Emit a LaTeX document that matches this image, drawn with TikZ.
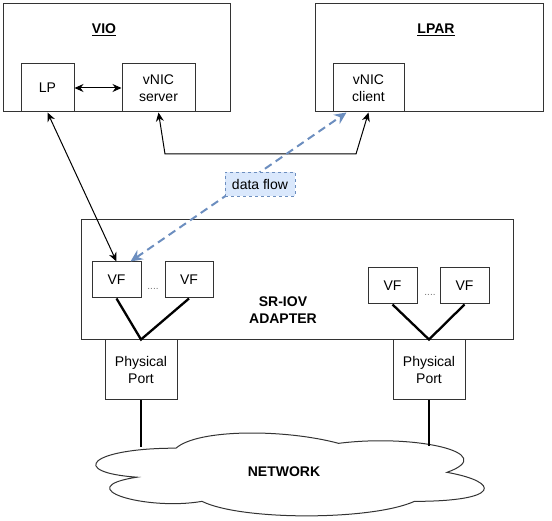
\documentclass[tikz,border=0pt]{standalone}
\usepackage{fontspec}
\setmainfont{Liberation Sans}
\usetikzlibrary{arrows.meta}
\definecolor{flowblue}{HTML}{6C8EBF}
\definecolor{flowfill}{HTML}{DAE8FC}

\begin{document}
\begin{tikzpicture}[
		x=1pt, y=-1pt,
		every node/.style={font=\fontsize{14}{16.5}\selectfont},
		box/.style={draw=black!80, line width=1pt, inner sep=0pt, align=center},
		title/.style={font=\fontsize{14}{16.5}\selectfont\bfseries, align=center},
		link/.style={line width=1pt, {Stealth[length=9pt,width=8pt]}-{Stealth[length=9pt,width=8pt]}},
		wire/.style={line width=2.3pt},
		flow/.style={draw=flowblue, line width=2pt, dash pattern=on 8pt off 5pt,
			{Stealth[length=12pt,width=11pt]}-{Stealth[length=12pt,width=11pt]}},
		flowlabel/.style={draw=flowblue, fill=flowfill, dashed, line width=0.8pt,
			minimum width=70pt, minimum height=24pt, inner sep=0pt},
		dotgap/.style={text=black!55, font=\fontsize{10}{10}\selectfont, inner sep=0pt}
	]
	\useasboundingbox (0,0) rectangle (552,521);

	\node[box, minimum width=227pt, minimum height=108pt] (vio) at (116.5,58) {};
	\node[title] (viotitle) at (104,30) {\underline{VIO}};
	\node[box, minimum width=53pt, minimum height=48pt] (lp) at (47.5,88) {LP};
	\node[box, minimum width=73pt, minimum height=48pt] (srv) at (158.5,88) {vNIC\\server};

	\node[box, minimum width=228pt, minimum height=108pt] (lpar) at (429,58) {};
	\node[title] (lpartitle) at (436,30) {\underline{LPAR}};
	\node[box, minimum width=71pt, minimum height=48pt] (cli) at (368.5,88) {vNIC\\client};

	\node[box, minimum width=432pt, minimum height=120pt] (sriov) at (297,280) {};
	\node[title] (sriovtitle) at (283,310) {SR-IOV\\ADAPTER};
	\node[box, minimum width=49pt, minimum height=36pt] (vf1) at (116.5,280) {VF};
	\node[box, minimum width=48pt, minimum height=36pt] (vf2) at (189,280) {VF};
	\node[box, minimum width=49pt, minimum height=36pt] (vf3) at (392.5,286) {VF};
	\node[box, minimum width=49pt, minimum height=36pt] (vf4) at (464.5,286) {VF};
	\node[dotgap] (gap1) at (153,289) {....};
	\node[dotgap] (gap2) at (430,295) {....};

	\node[box, minimum width=72pt, minimum height=60pt] (port1) at (141,370) {Physical\\Port};
	\node[box, minimum width=72pt, minimum height=60pt] (port2) at (429,370) {Physical\\Port};

	\begin{scope}[shift={(67.6,424)}, x=433.6pt, y=-96.7pt]
		\draw[draw=black!80, line width=1pt, fill=white] (0.25,0.25)
			.. controls (0.05,0.25) and (0,0.5) .. (0.16,0.55)
			.. controls (0,0.66) and (0.18,0.9) .. (0.31,0.8)
			.. controls (0.4,1) and (0.7,1) .. (0.8,0.8)
			.. controls (1,0.8) and (1,0.6) .. (0.875,0.5)
			.. controls (1,0.3) and (0.8,0.1) .. (0.625,0.2)
			.. controls (0.5,0.05) and (0.3,0.05) .. (0.25,0.25) -- cycle;
	\end{scope}
	\node[title] (net) at (284,472) {NETWORK};
	\coordinate (net1) at (141,447);
	\coordinate (net2) at (429,446);

	\draw[link] (lp) -- (srv);
	\draw[link] (srv.south) -- (165,154) -- (356,154) -- (cli.south);
	\draw[link] (lp.south) -- (vf1.north);
	\draw[flow] ([xshift=14pt]vf1.north) -- ([xshift=-22pt]cli.south);
	\node[flowlabel] (flowtxt) at (260,184) {data flow};

	\draw[wire] (vf1.south) -- (port1.north) -- (vf2.south);
	\draw[wire] (vf3.south) -- (port2.north) -- (vf4.south);
	\draw[wire] (port1) -- (net1);
	\draw[wire] (port2) -- (net2);
\end{tikzpicture}
\end{document}
